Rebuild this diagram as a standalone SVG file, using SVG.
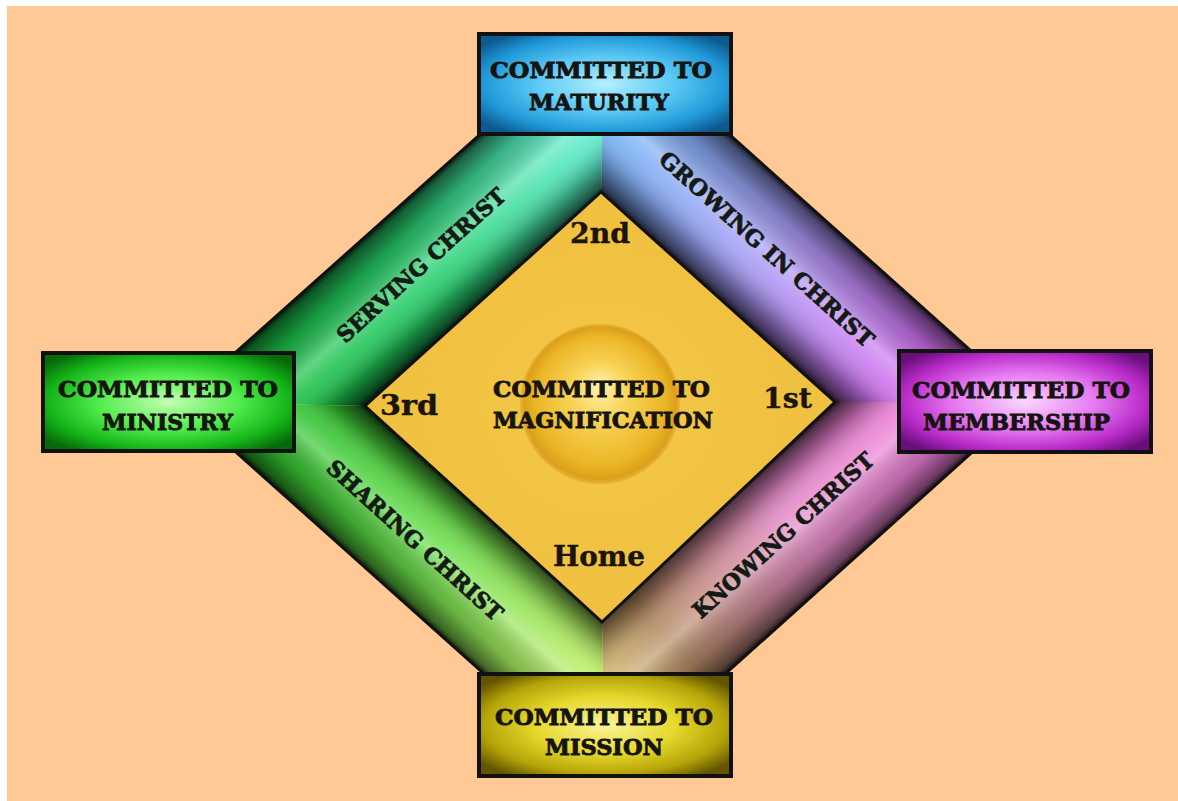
<svg xmlns="http://www.w3.org/2000/svg" width="1178" height="801" viewBox="0 0 1178 801">
<defs>
<style>
.lbl{font-family:"DejaVu Serif","Liberation Serif",serif;font-weight:bold;fill:#161410;stroke:#161410;stroke-width:0.9;text-anchor:middle;font-size:23px;}
.band{font-family:"DejaVu Serif","Liberation Serif",serif;font-weight:bold;fill:#141a14;stroke:#141a14;stroke-width:0.8;text-anchor:middle;font-size:22px;}
.ord{font-family:"DejaVu Serif","Liberation Serif",serif;font-weight:bold;fill:#1a140a;stroke:#1a140a;stroke-width:0.4;text-anchor:middle;font-size:27px;}
.box{stroke:#111;stroke-width:4;}
.edge{fill:none;stroke:#111;stroke-width:3;stroke-linejoin:miter;}
</style>
<linearGradient id="cTL" gradientUnits="userSpaceOnUse" x1="180" y1="402" x2="605" y2="30">
<stop offset="0" stop-color="#10b42c"/><stop offset="0.5" stop-color="#28d070"/><stop offset="1" stop-color="#70f6f4"/>
</linearGradient>
<linearGradient id="cTR" gradientUnits="userSpaceOnUse" x1="605" y1="30" x2="1028" y2="402">
<stop offset="0" stop-color="#5cb8f2"/><stop offset="0.45" stop-color="#a49ef6"/><stop offset="0.8" stop-color="#d070ee"/><stop offset="1" stop-color="#f274ea"/>
</linearGradient>
<linearGradient id="cBR" gradientUnits="userSpaceOnUse" x1="1028" y1="402" x2="605" y2="782">
<stop offset="0" stop-color="#f274e4"/><stop offset="0.45" stop-color="#e48ac6"/><stop offset="0.75" stop-color="#b48a62"/><stop offset="1" stop-color="#ece278"/>
</linearGradient>
<linearGradient id="cBL" gradientUnits="userSpaceOnUse" x1="605" y1="782" x2="180" y2="402">
<stop offset="0" stop-color="#e0f270"/><stop offset="0.5" stop-color="#68dc48"/><stop offset="1" stop-color="#10b420"/>
</linearGradient>
<linearGradient id="sTL" gradientUnits="userSpaceOnUse" x1="392" y1="213" x2="475.2" y2="306.3">
<stop offset="0" stop-color="#000" stop-opacity="0.85"/><stop offset="0.05" stop-color="#000" stop-opacity="0.55"/><stop offset="0.22" stop-color="#000" stop-opacity="0.2"/><stop offset="0.47" stop-color="#fff" stop-opacity="0.32"/><stop offset="0.62" stop-color="#fff" stop-opacity="0.12"/><stop offset="0.82" stop-color="#000" stop-opacity="0.28"/><stop offset="0.95" stop-color="#000" stop-opacity="0.62"/><stop offset="1" stop-color="#000" stop-opacity="0.85"/>
</linearGradient>
<linearGradient id="sTR" href="#sTL" xlink:href="#sTL" xmlns:xlink="http://www.w3.org/1999/xlink" x1="816" y1="212" x2="730.2" y2="307.9"/>
<linearGradient id="sBR" href="#sTL" xlink:href="#sTL" xmlns:xlink="http://www.w3.org/1999/xlink" x1="816.5" y1="592" x2="730.3" y2="496"/>
<linearGradient id="sBL" href="#sTL" xlink:href="#sTL" xmlns:xlink="http://www.w3.org/1999/xlink" x1="392.5" y1="592" x2="472.7" y2="502.4"/>
<radialGradient id="gBlue" cx="0.5" cy="0.5" r="0.62">
<stop offset="0" stop-color="#b4f0ff"/><stop offset="0.45" stop-color="#58c8f4"/><stop offset="0.78" stop-color="#2098d8"/><stop offset="1" stop-color="#0c5a90"/>
</radialGradient>
<radialGradient id="gGreen" cx="0.5" cy="0.5" r="0.62">
<stop offset="0" stop-color="#c4ffb4"/><stop offset="0.45" stop-color="#52ec4c"/><stop offset="0.78" stop-color="#14b418"/><stop offset="1" stop-color="#066a0a"/>
</radialGradient>
<radialGradient id="gPurple" cx="0.5" cy="0.5" r="0.62">
<stop offset="0" stop-color="#fbd8ff"/><stop offset="0.45" stop-color="#e67af2"/><stop offset="0.78" stop-color="#b82ac8"/><stop offset="1" stop-color="#6a0e7c"/>
</radialGradient>
<radialGradient id="gYellow" cx="0.5" cy="0.5" r="0.62">
<stop offset="0" stop-color="#fbf49a"/><stop offset="0.45" stop-color="#e6d82c"/><stop offset="0.78" stop-color="#b4a408"/><stop offset="1" stop-color="#625400"/>
</radialGradient>
<radialGradient id="gInner" cx="0.5" cy="0.5" r="0.6">
<stop offset="0" stop-color="#f4c848"/><stop offset="0.8" stop-color="#f0c040"/><stop offset="1" stop-color="#dca830"/>
</radialGradient>
<radialGradient id="gSphere" cx="0.5" cy="0.5" r="0.5" fx="0.5" fy="0.38">
<stop offset="0" stop-color="#fff4b0"/><stop offset="0.35" stop-color="#f8d458"/><stop offset="0.8" stop-color="#ecb628"/><stop offset="0.95" stop-color="#dca01a"/><stop offset="1" stop-color="#e8b438"/>
</radialGradient>
</defs>

<rect x="0" y="0" width="1178" height="801" fill="#ffffff"/>
<rect x="7" y="6" width="1171" height="795" fill="#fec995"/>

<g id="ring">
<polygon points="180,402 590.4,36 604.7,36 601,192 365,406" fill="url(#cTL)"/>
<polygon points="180,402 590.4,36 604.7,36 601,192 365,406" fill="url(#sTL)"/>
<polygon points="604.7,36 619.5,36 1028,402 835,402 601,192" fill="url(#cTR)"/>
<polygon points="604.7,36 619.5,36 1028,402 835,402 601,192" fill="url(#sTR)"/>
<polygon points="1028,402 616,772 604.8,772 602,622 835,402" fill="url(#cBR)"/>
<polygon points="1028,402 616,772 604.8,772 602,622 835,402" fill="url(#sBR)"/>
<polygon points="604.8,772 594,772 180,402 365,406 602,622" fill="url(#cBL)"/>
<polygon points="604.8,772 594,772 180,402 365,406 602,622" fill="url(#sBL)"/>
<polygon class="edge" points="180,402 590.4,36 619.5,36 1028,402 616,772 594,772"/>
</g>

<g id="magnification">
<polygon points="601,192 835,402 602,622 365,406" fill="url(#gInner)" stroke="#111" stroke-width="3"/>
<circle cx="600" cy="404" r="80" fill="url(#gSphere)"/>
<text class="lbl" x="601.5" y="397" textLength="217" lengthAdjust="spacingAndGlyphs" font-size="24">COMMITTED TO</text>
<text class="lbl" x="603" y="428" textLength="220" lengthAdjust="spacingAndGlyphs" font-size="24">MAGNIFICATION</text>
<text class="ord" x="600" y="243" textLength="60" lengthAdjust="spacingAndGlyphs">2nd</text>
<text class="ord" x="409" y="415" textLength="58" lengthAdjust="spacingAndGlyphs">3rd</text>
<text class="ord" x="787.5" y="408" textLength="49" lengthAdjust="spacingAndGlyphs">1st</text>
<text class="ord" x="599" y="566" textLength="92" lengthAdjust="spacingAndGlyphs">Home</text>
</g>

<g id="band-labels">
<text class="band" transform="translate(421,265) rotate(-42)" x="0" y="8" textLength="218" lengthAdjust="spacingAndGlyphs">SERVING CHRIST</text>
<text class="band" transform="translate(767,249) rotate(42)" x="0" y="8" textLength="280" lengthAdjust="spacingAndGlyphs">GROWING IN CHRIST</text>
<text class="band" transform="translate(415,540) rotate(42)" x="0" y="8" textLength="228" lengthAdjust="spacingAndGlyphs">SHARING CHRIST</text>
<text class="band" transform="translate(783,535) rotate(-42)" x="0" y="8" textLength="235" lengthAdjust="spacingAndGlyphs">KNOWING CHRIST</text>
</g>

<g id="maturity">
<rect class="box" x="479" y="34" width="252" height="100" fill="url(#gBlue)"/>
<text class="lbl" x="601" y="78" textLength="222" lengthAdjust="spacingAndGlyphs">COMMITTED TO</text>
<text class="lbl" x="599" y="110" textLength="140" lengthAdjust="spacingAndGlyphs">MATURITY</text>
</g>

<g id="ministry">
<rect class="box" x="43" y="353" width="251" height="98" fill="url(#gGreen)"/>
<text class="lbl" x="168" y="397" textLength="220" lengthAdjust="spacingAndGlyphs">COMMITTED TO</text>
<text class="lbl" x="167.5" y="430" textLength="131" lengthAdjust="spacingAndGlyphs">MINISTRY</text>
</g>

<g id="membership">
<rect class="box" x="899" y="351" width="252" height="101" fill="url(#gPurple)"/>
<text class="lbl" x="1021" y="398" textLength="218" lengthAdjust="spacingAndGlyphs">COMMITTED TO</text>
<text class="lbl" x="1016.5" y="430" textLength="187" lengthAdjust="spacingAndGlyphs">MEMBERSHIP</text>
</g>

<g id="mission">
<rect class="box" x="479" y="674" width="252" height="102" fill="url(#gYellow)"/>
<text class="lbl" x="604" y="725" textLength="218" lengthAdjust="spacingAndGlyphs">COMMITTED TO</text>
<text class="lbl" x="604" y="755" textLength="118" lengthAdjust="spacingAndGlyphs">MISSION</text>
</g>
</svg>
